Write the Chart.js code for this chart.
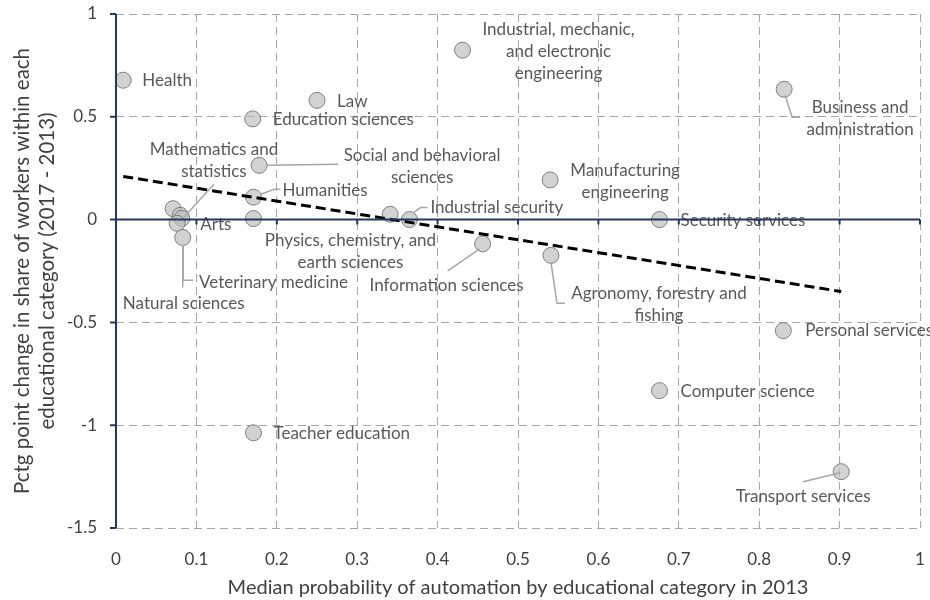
<!DOCTYPE html>
<html>
<head>
<meta charset="utf-8">
<script src="https://cdn.jsdelivr.net/npm/chart.js@4/dist/chart.umd.min.js"></script>
<style>
  html, body { margin: 0; padding: 0; background: #fff; }
  #wrap { width: 930px; height: 600px; }
</style>
</head>
<body>
<div id="wrap"><canvas id="chart" width="930" height="600"></canvas></div>
<script>
// categories and values
const categories = [
  'Health', 'Law', 'Education sciences', 'Industrial, mechanic, and electronic engineering',
  'Business and administration', 'Social and behavioral sciences', 'Humanities',
  'Manufacturing engineering', 'Physics, chemistry, and earth sciences', '',
  'Arts', 'Mathematics and statistics', 'Veterinary medicine', 'Natural sciences', '',
  'Industrial security', 'Information sciences', 'Agronomy, forestry and fishing',
  'Security services', 'Personal services', 'Computer science', 'Teacher education',
  'Transport services'
];
const automation = [
  0.009, 0.250, 0.170, 0.431, 0.831, 0.178, 0.171, 0.540, 0.171, 0.071, 0.080, 0.082,
  0.076, 0.083, 0.341, 0.365, 0.456, 0.541, 0.676, 0.830, 0.676, 0.171, 0.902
];
const shareChange = [
  0.678, 0.580, 0.490, 0.824, 0.634, 0.264, 0.109, 0.193, 0.005, 0.053, 0.021, 0.006,
  -0.018, -0.087, 0.026, 0.000, -0.118, -0.174, 0.000, -0.540, -0.832, -1.037, -1.226
];
const trendX = [0.009, 0.902];
const trendY = [0.21, -0.35];
const xTicks = [0, 0.1, 0.2, 0.3, 0.4, 0.5, 0.6, 0.7, 0.8, 0.9, 1];
const yTicks = [1, 0.5, 0, -0.5, -1, -1.5];

// label placement (pixel offsets from each point), kept apart from the data
const labelLayout = [
  { lines: ['Health'], dx: 19, dy: 0, align: 'left' },
  { lines: ['Law'], dx: 20, dy: 1, align: 'left' },
  { lines: ['Education sciences'], dx: 20, dy: 1, align: 'left' },
  { lines: ['Industrial, mechanic,', 'and electronic', 'engineering'], dx: 96, dy: -21, align: 'center' },
  { lines: ['Business and', 'administration'], dx: 76, dy: 18, align: 'center',
    leader: [[1, 6], [8, 28], [16, 28]] },
  { lines: ['Social and behavioral', 'sciences'], dx: 163, dy: -10, align: 'center',
    leader: [[8, 0], [79, -1]] },
  { lines: ['Humanities'], dx: 29, dy: -7, align: 'left',
    leader: [[7, -3], [21, -8], [27, -8]] },
  { lines: ['Manufacturing', 'engineering'], dx: 75, dy: -9, align: 'center' },
  { lines: ['Physics, chemistry, and', 'earth sciences'], dx: 97, dy: 22, align: 'center' },
  null,
  { lines: ['Arts'], dx: 20, dy: 9, align: 'left' },
  { lines: ['Mathematics and', 'statistics'], dx: 32, dy: -69, align: 'center',
    leader: [[2, -1], [32, -34]] },
  { lines: ['Veterinary medicine'], dx: 22, dy: 59, align: 'left',
    leader: [[6, 22], [6, 57], [16, 57]] },
  { lines: ['Natural sciences'], dx: 1, dy: 66, align: 'center',
    leader: [[0, 8], [0, 50]] },
  null,
  { lines: ['Industrial security'], dx: 21, dy: -12, align: 'left',
    leader: [[4, -7], [11, -12], [18, -12]] },
  { lines: ['Information sciences'], dx: -36, dy: 42, align: 'center',
    leader: [[-3, 5], [-35, 27]] },
  { lines: ['Agronomy, forestry and', 'fishing'], dx: 108, dy: 38, align: 'center',
    leader: [[0, 7], [6, 48], [14, 48]] },
  { lines: ['Security services'], dx: 21, dy: 1, align: 'left' },
  { lines: ['Personal services'], dx: 22, dy: 0, align: 'left' },
  { lines: ['Computer science'], dx: 21, dy: 1, align: 'left' },
  { lines: ['Teacher education'], dx: 20, dy: 1, align: 'left' },
  { lines: ['Transport services'], dx: -38, dy: 25, align: 'center',
    leader: [[-1, 1], [-38, 10]] }
];

const FONT = 'Lato, "Open Sans", sans-serif';
const AXIS_COLOR = '#1f3a5f';

const pointLabels = {
  id: 'pointLabels',
  afterDatasetsDraw(chart) {
    const ctx = chart.ctx;
    const meta = chart.getDatasetMeta(1);
    ctx.save();
    ctx.font = '17px ' + FONT;
    ctx.fillStyle = '#595959';
    ctx.textBaseline = 'middle';
    meta.data.forEach((pt, i) => {
      const lay = labelLayout[i];
      if (!lay) return;
      if (lay.leader) {
        ctx.strokeStyle = '#a6a6a6';
        ctx.lineWidth = 1.5;
        ctx.beginPath();
        lay.leader.forEach(([lx, ly], k) => {
          if (k === 0) ctx.moveTo(pt.x + lx, pt.y + ly);
          else ctx.lineTo(pt.x + lx, pt.y + ly);
        });
        ctx.stroke();
      }
      ctx.textAlign = lay.align;
      lay.lines.forEach((line, k) => {
        ctx.fillText(line, pt.x + lay.dx, pt.y + lay.dy + k * 22);
      });
    });
    ctx.restore();
  },
  afterDraw(chart) {
    const ctx = chart.ctx;
    const xs = chart.scales.x, ys = chart.scales.y;
    const y0 = ys.getPixelForValue(0);
    const x0 = xs.getPixelForValue(0);
    ctx.save();
    ctx.strokeStyle = AXIS_COLOR;
    ctx.lineWidth = 2;
    ctx.beginPath();
    ctx.moveTo(xs.left, y0);
    ctx.lineTo(xs.right, y0);
    ctx.moveTo(x0, ys.top);
    ctx.lineTo(x0, ys.bottom);
    // tick marks
    xTicks.forEach(v => {
      const px = xs.getPixelForValue(v);
      ctx.moveTo(px, y0);
      ctx.lineTo(px, y0 + 5);
    });
    yTicks.forEach(v => {
      const py = ys.getPixelForValue(v);
      ctx.moveTo(x0 - 6, py);
      ctx.lineTo(x0, py);
    });
    ctx.stroke();
    ctx.restore();
  }
};

new Chart(document.getElementById('chart'), {
  type: 'scatter',
  data: {
    datasets: [
      {
        type: 'line',
        label: 'Trend',
        data: trendX.map((x, i) => ({ x, y: trendY[i] })),
        borderColor: '#000',
        borderWidth: 3,
        borderDash: [10, 5],
        pointRadius: 0,
        fill: false,
        order: 0
      },
      {
        label: 'Educational categories',
        data: automation.map((x, i) => ({ x, y: shareChange[i] })),
        backgroundColor: 'rgba(191, 191, 191, 0.7)',
        borderColor: '#7f7f7f',
        borderWidth: 1,
        pointRadius: 8,
        order: 1
      }
    ]
  },
  options: {
    responsive: false,
    animation: false,
    layout: { padding: { top: 14, right: 10, left: 0, bottom: 0 } },
    plugins: {
      legend: { display: false },
      tooltip: { enabled: false }
    },
    scales: {
      x: {
        type: 'linear',
        min: 0,
        max: 1,
        afterBuildTicks: scale => { scale.ticks = xTicks.map(value => ({ value })); },
        afterFit: scale => { scale.height = 72; },
        grid: { color: '#a6a6a6', lineWidth: 1, drawTicks: true, tickLength: 21, tickColor: 'rgba(0,0,0,0)' },
        border: { display: false, dash: [8, 5] },
        ticks: {
          padding: 0,
          color: '#404040',
          font: { family: FONT, size: 17 },
          callback: v => String(v)
        },
        title: {
          display: true,
          text: 'Median probability of automation by educational category in 2013',
          color: '#404040',
          font: { family: FONT, size: 20 },
          padding: { top: 0, bottom: 0 }
        }
      },
      y: {
        type: 'linear',
        min: -1.5,
        max: 1,
        afterBuildTicks: scale => { scale.ticks = yTicks.map(value => ({ value })); },
        afterFit: scale => { scale.width = 116; },
        grid: { color: '#a6a6a6', lineWidth: 1, drawTicks: true, tickLength: 19, tickColor: 'rgba(0,0,0,0)' },
        border: { display: false, dash: [8, 5] },
        ticks: {
          padding: 0,
          color: '#404040',
          font: { family: FONT, size: 17 },
          callback: v => String(v)
        },
        title: {
          display: true,
          text: ['Pctg point change in share of workers within each', 'educational category (2017 - 2013)'],
          color: '#404040',
          font: { family: FONT, size: 20.5 },
          padding: { top: 10, bottom: 0 }
        }
      }
    }
  },
  plugins: [pointLabels]
});
</script>
</body>
</html>
